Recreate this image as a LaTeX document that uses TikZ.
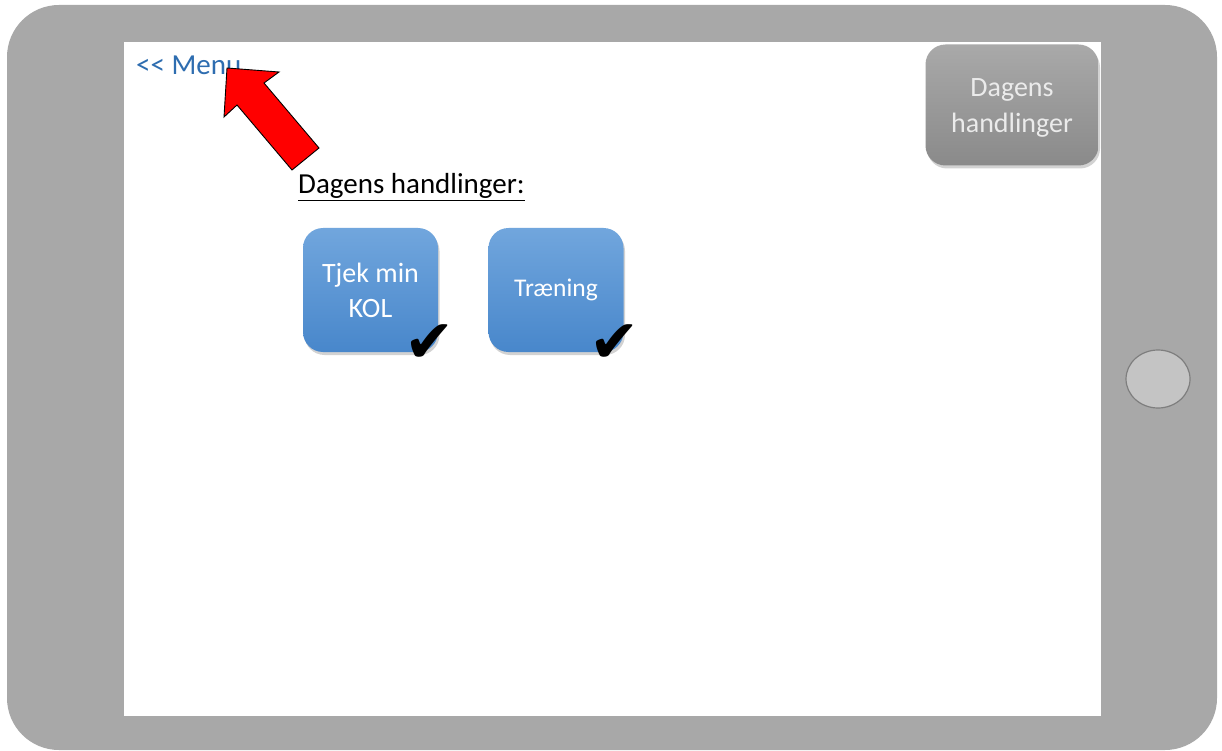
\documentclass[tikz,border=0pt]{standalone}
\usepackage{fontspec}
\setmainfont{Carlito}[Ligatures=NoCommon]
\newfontfamily\symfont{DejaVu Sans}
\usetikzlibrary{shadows,shapes.geometric}
\definecolor{bezel}{HTML}{A8A8A8}
\definecolor{menublue}{HTML}{2E6DB0}
\definecolor{tiletop}{HTML}{71A6DD}
\definecolor{tilebot}{HTML}{4887CB}
\definecolor{greytop}{HTML}{A9A9A9}
\definecolor{greybot}{HTML}{8A8A8A}
\definecolor{homefill}{HTML}{C4C4C4}
\definecolor{homeedge}{HTML}{7E7E7E}
\tikzset{
  tile/.style={rounded corners=20pt, top color=tiletop, bottom color=tilebot,
    draw=none, text=white, align=center, minimum width=135pt, minimum height=124pt,
    drop shadow={opacity=0.35, shadow xshift=1.5pt, shadow yshift=-3pt}},
  greytile/.style={rounded corners=20pt, top color=greytop, bottom color=greybot,
    draw=none, minimum width=173pt, minimum height=121pt,
    drop shadow={opacity=0.35, shadow xshift=1.5pt, shadow yshift=-3pt}},
  tick/.style={font=\symfont\fontsize{60}{62}\selectfont, text=black, inner sep=0pt},
}
\begin{document}
\begin{tikzpicture}[x=1pt,y=-1pt]
\useasboundingbox (0,0) rectangle (1222,751);
% tablet body and screen
\fill[white] (0,0) rectangle (1222,751);
\fill[bezel, rounded corners=52pt] (7,5) rectangle (1217,750);
\fill[white] (124,42) rectangle (1101,716);
% home button
\node[ellipse, draw=homeedge, line width=1.2pt, fill=homefill,
  minimum width=64pt, minimum height=58pt] (home) at (1158,379) {};
% back link
\node[anchor=west, text=menublue, inner sep=0pt,
  font=\fontsize{29}{32}\selectfont] (menu) at (136,65) {{<}{<} Menu};
% pointer arrow towards the back link
\draw[fill=red, draw=black, line width=0.9pt, line join=miter]
  (227,68) -- (279,72) -- (264,83) -- (319,148) -- (292,170)
  -- (237,105) -- (224,117) -- cycle;
% top-right button
\node[greytile] (today) at (1012,105) {};
\node[text=white!92!black, align=center, font=\fontsize{28}{36}\selectfont]
  (todaytext) at (1012,108) {Dagens\\handlinger};
% heading
\node[anchor=west, inner sep=0pt, font=\fontsize{29}{32}\selectfont]
  (heading) at (298,187) {\underline{Dagens handlinger:}};
% action tiles
\node[tile, font=\fontsize{28}{35}\selectfont] (check) at (370.5,290) {Tjek min\\KOL};
\node[tile, font=\fontsize{25.5}{30}\selectfont] (train) at (556,290) {Træning};
% done marks
\node[tick] (tick1) at (430,344) {✔};
\node[tick] (tick2) at (615,344) {✔};
\end{tikzpicture}
\end{document}
